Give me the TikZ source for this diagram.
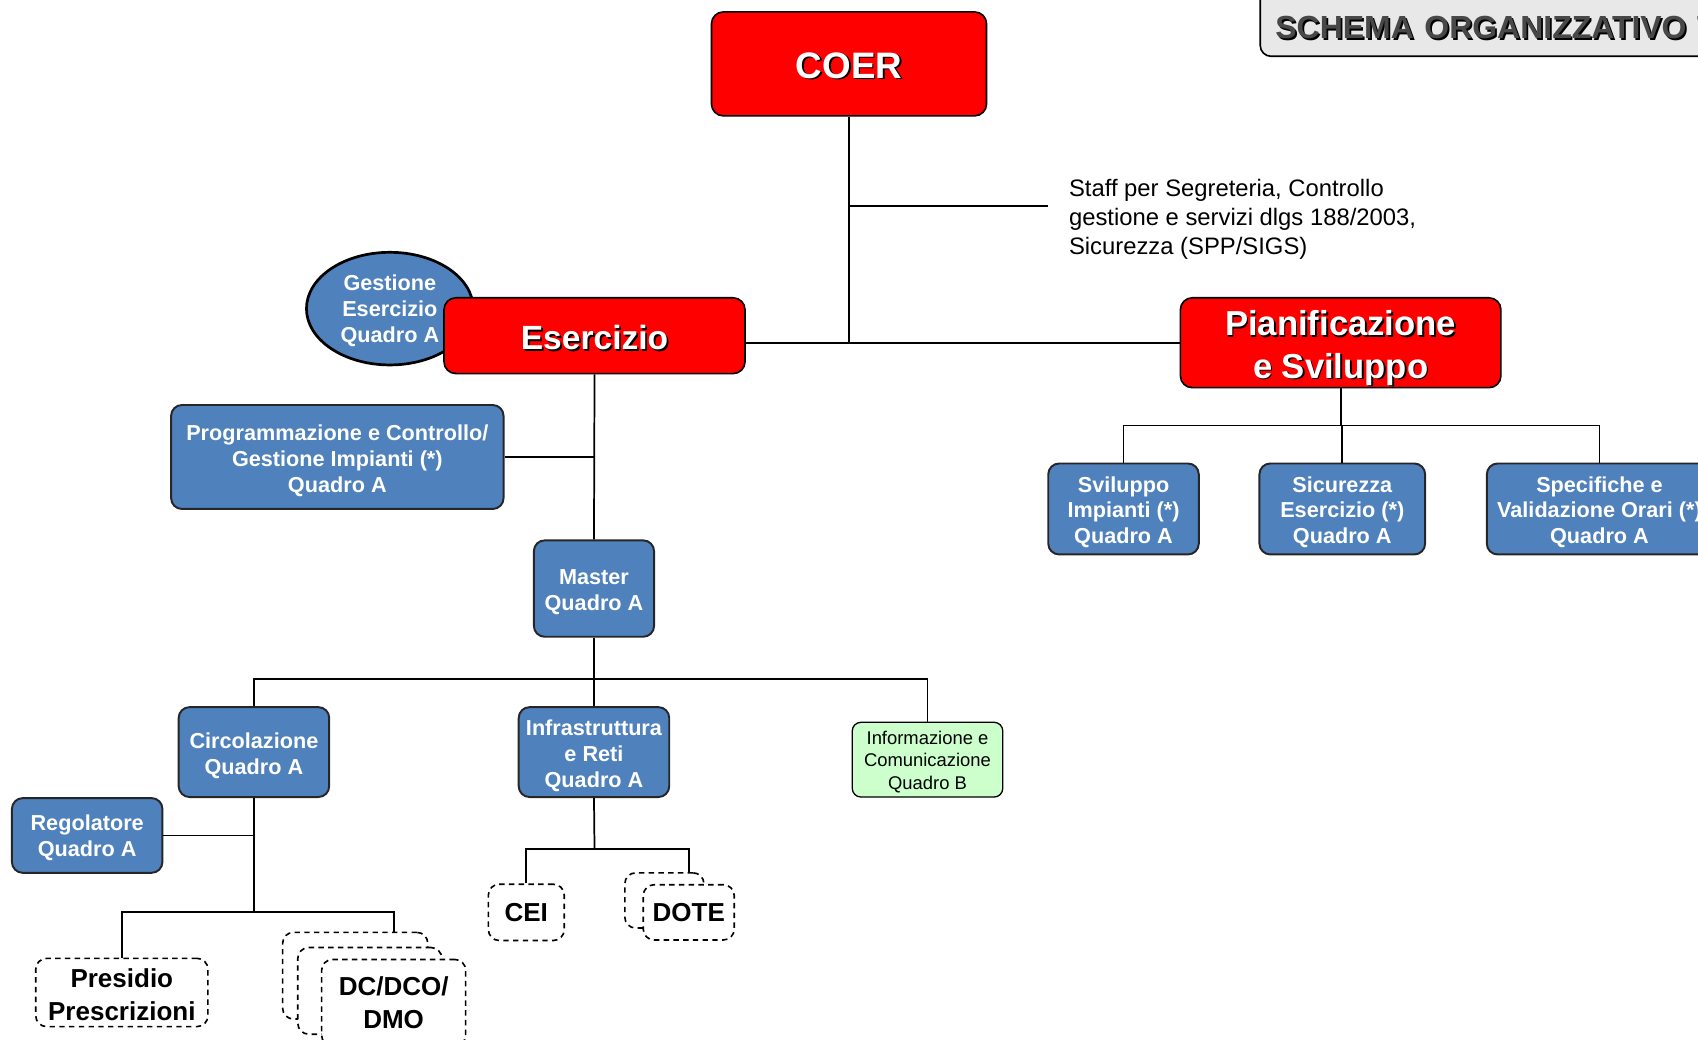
\documentclass[tikz,border=0pt]{standalone}
\usepackage{fontspec}
\setmainfont{Liberation Sans}
\usetikzlibrary{shapes.geometric,calc}
\definecolor{cred}{RGB}{255,0,0}
\definecolor{cblue}{RGB}{79,129,189}
\definecolor{cgreen}{RGB}{204,255,204}
\definecolor{ctitle}{RGB}{232,232,232}
\definecolor{ctitletxt}{RGB}{72,72,72}
\newcommand{\txtsh}[1]{\makebox[0pt][l]{\hspace{1.6pt}\raisebox{-1.6pt}{\textcolor{black}{#1}}}#1}
\begin{document}
\begin{tikzpicture}[x=1pt,y=-1pt,
 conn/.style={line width=1.6pt, draw=black},
 lowtext/.style={execute at begin node={\rule{0pt}{#1pt}}},
 redbox/.style={draw=black, line width=1.5pt, fill=cred, rounded corners=11pt, text=white, align=center, inner sep=0pt},
 bluebox/.style={draw=black!85, line width=1.8pt, fill=cblue, rounded corners=10pt, text=white, font=\bfseries\fontsize{20}{24}\selectfont, align=center, inner sep=0pt},
 greenbox/.style={draw=black, line width=1.2pt, fill=cgreen, rounded corners=8pt, text=black, font=\fontsize{17}{21}\selectfont, align=center, inner sep=0pt},
 dashbox/.style={draw=black, line width=1.5pt, dash pattern=on 5pt off 4pt, fill=white, rounded corners=10pt, text=black, font=\bfseries\fontsize{24}{30}\selectfont, align=center, inner sep=0pt},
 titlebox/.style={draw=black, line width=1.5pt, fill=ctitle, rounded corners=10pt, text=ctitletxt, font=\bfseries\fontsize{29.5}{34}\selectfont, align=left, inner xsep=14pt, inner ysep=0pt},
 stafftxt/.style={font=\fontsize{22}{26.5}\selectfont, align=left, inner sep=0pt, text=black}
]
\useasboundingbox (0,0) rectangle (1568,960);
\clip (0,0) rectangle (1568,960);

% title
\node[titlebox, anchor=west, text width=420pt, minimum height=64pt, lowtext=33] (title) at (1163,20) {\txtsh{SCHEMA ORGANIZZATIVO T}};

% top level
\node[redbox, minimum width=254pt, minimum height=96pt, font=\bfseries\fontsize{34}{40}\selectfont, lowtext=28] (coer) at (784,59) {\txtsh{COER}};
\node[stafftxt, anchor=north west] (staff) at (987,165.5) {Staff per Segreteria, Controllo\\gestione e servizi dlgs 188/2003,\\Sicurezza (SPP/SIGS)};
\coordinate (staffend) at (968,190);

\node[ellipse, draw=black, line width=2.5pt, fill=cblue, minimum width=154pt, minimum height=104pt, inner sep=0pt, text=white, align=center, font=\bfseries\fontsize{20}{24}\selectfont, lowtext=66.6] (gest) at (360,285) {Gestione\\Esercizio\\Quadro A};
\node[redbox, minimum width=278pt, minimum height=70pt, font=\bfseries\fontsize{31}{38}\selectfont, lowtext=27.5] (eserc) at (549,310) {\txtsh{Esercizio}};
\node[redbox, minimum width=296pt, minimum height=83pt, font=\bfseries\fontsize{32}{39}\selectfont, lowtext=73.4] (pian) at (1238,316.5) {\txtsh{Pianificazione}\\\txtsh{e Sviluppo}};

% Esercizio branch
\node[bluebox, minimum width=307pt, minimum height=96pt, lowtext=68.6] (prog) at (311.5,422) {Programmazione e Controllo/\\Gestione Impianti (*)\\Quadro A};
\node[bluebox, minimum width=111pt, minimum height=89pt, lowtext=44.6] (master) at (548.5,543.5) {Master\\Quadro A};

% Pianificazione branch
\node[bluebox, minimum width=139pt, minimum height=84pt, lowtext=68.6] (svil) at (1037.5,470) {Sviluppo\\Impianti (*)\\Quadro A};
\node[bluebox, minimum width=153pt, minimum height=84pt, lowtext=68.6] (sic) at (1239.5,470) {Sicurezza\\Esercizio (*)\\Quadro A};
\node[bluebox, minimum width=208pt, minimum height=84pt, lowtext=68.6] (spec) at (1477,470) {Specifiche e\\Validazione Orari (*)\\Quadro A};

% Master children
\node[bluebox, minimum width=139pt, minimum height=83pt, lowtext=44.6] (circ) at (234.5,694.5) {Circolazione\\Quadro A};
\node[bluebox, minimum width=139pt, minimum height=83pt, lowtext=68.6] (infra) at (548.5,694.5) {Infrastruttura\\e Reti\\Quadro A};
\node[greenbox, minimum width=139pt, minimum height=69pt, lowtext=58.4] (info) at (856.5,701.5) {Informazione e\\Comunicazione\\Quadro B};
\node[bluebox, minimum width=139pt, minimum height=69pt, lowtext=43.6] (reg) at (80.5,771.5) {Regolatore\\Quadro A};

% dashed units
\node[dashbox, minimum width=159pt, minimum height=63pt, lowtext=51.5] (pres) at (112.5,916.5) {Presidio\\Prescrizioni};
\node[dashbox, minimum width=134pt, minimum height=80pt] (dcB) at (328,901) {};
\node[dashbox, minimum width=133pt, minimum height=80pt] (dcM) at (341.5,915) {};
\node[dashbox, minimum width=133pt, minimum height=80pt] (dcF) at (363.5,926) {DC/DCO/\\DMO};
\node[dashbox, minimum width=70pt, minimum height=52pt] (cei) at (486,842.5) {CEI};
\node[dashbox, minimum width=73pt, minimum height=51pt] (doteB) at (613.5,831.5) {};
\node[dashbox, minimum width=84pt, minimum height=51pt] (doteF) at (636,842.5) {DOTE};

% bus coordinates
\coordinate (pbus) at (1238,393);
\coordinate (mbus) at (549,627);
\coordinate (ibus) at (549,784);
\coordinate (cbus) at (235,842);

% connectors
\draw[conn] (coer.south) -- (coer.south |- pian.west);
\draw[conn] (coer.south |- staffend) -- (staffend);
\draw[conn] (eserc.east |- pian.west) -- (pian.west);
\draw[conn] (eserc.south) -- (master.north);
\draw[conn] (prog.east) -- (prog.east -| eserc.south);

\draw[conn] (pian.south) -- (pbus);
\draw[conn] (svil.north) -- (svil.north |- pbus) -- (spec.north |- pbus) -- (spec.north);
\draw[conn] (sic.north) -- (sic.north |- pbus);

\draw[conn] (master.south) -- (infra.north);
\draw[conn] (circ.north) -- (circ.north |- mbus) -- (info.north |- mbus) -- (info.north);

\draw[conn] (circ.south) -- (circ.south |- cbus);
\draw[conn] (reg.east) -- (reg.east -| circ.south);
\draw[conn] (pres.north) -- (pres.north |- cbus) -- (dcF.north |- cbus) -- (dcF.north |- dcB.north);

\draw[conn] (infra.south) -- (ibus);
\draw[conn] (cei.north) -- (cei.north |- ibus) -- (doteF.north |- ibus) -- (doteF.north |- doteB.north);
\end{tikzpicture}
\end{document}
